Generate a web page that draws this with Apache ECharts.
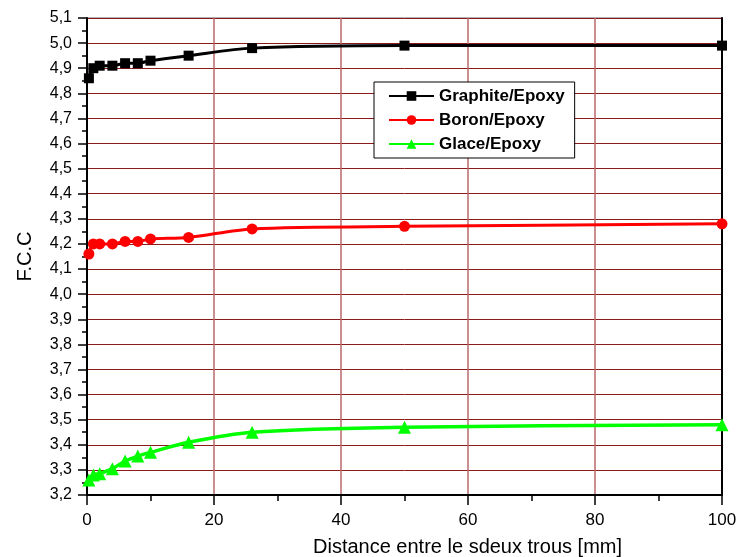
<!DOCTYPE html>
<html>
<head>
<meta charset="utf-8">
<script src="https://cdn.jsdelivr.net/npm/echarts@6/dist/echarts.min.js"></script>
<style>html,body{margin:0;padding:0;background:#fff}#c{width:739px;height:557px}</style>
</head>
<body>
<div id="c"></div>
<script>
const xValues = [0.3, 1, 2, 4, 6, 8, 10, 16, 26, 50, 100];
const graphite = [4.86, 4.90, 4.91, 4.91, 4.92, 4.92, 4.93, 4.95, 4.98, 4.99, 4.99];
const boron = [4.16, 4.20, 4.20, 4.20, 4.21, 4.21, 4.22, 4.226, 4.26, 4.27, 4.28];
const glace = [3.26, 3.28, 3.285, 3.305, 3.335, 3.355, 3.37, 3.41, 3.45, 3.47, 3.48];
const seriesNames = ['Graphite/Epoxy', 'Boron/Epoxy', 'Glace/Epoxy'];

const pairs = arr => xValues.map((x, i) => [x, arr[i]]);
const font = '"Liberation Sans", Arial, sans-serif';

const chart = echarts.init(document.getElementById('c'), null, {renderer: 'canvas'});
chart.setOption({
  animation: false,
  grid: {left: 87, top: 18, right: 17, bottom: 62, show: true, borderColor: '#666', borderWidth: 1,
    containLabel: false, outerBoundsMode: 'none'},
  legend: {
    orient: 'vertical',
    left: 374, top: 82,
    padding: [5, 10, 5, 14],
    itemGap: 6,
    itemWidth: 45, itemHeight: 12,
    borderColor: '#000', borderWidth: 1,
    backgroundColor: '#fff',
    textStyle: {fontFamily: font, fontSize: 17, fontWeight: 'bold', color: '#000', lineHeight: 18},
    data: seriesNames
  },
  xAxis: {
    type: 'value', min: 0, max: 100, interval: 20,
    name: 'Distance entre le sdeux trous [mm]',
    nameLocation: 'middle', nameGap: 42,
    nameTextStyle: {fontFamily: font, fontSize: 20, color: '#000', padding: [0, 0, 0, 126]},
    axisLine: {show: true, lineStyle: {color: '#000', width: 2}},
    axisTick: {show: true, length: 10, lineStyle: {color: '#000', width: 1.5}},
    minorTick: {show: true, splitNumber: 2, length: 6, lineStyle: {color: '#000', width: 1.5}},
    axisLabel: {fontFamily: font, fontSize: 17, color: '#000', margin: 17},
    splitLine: {show: true, lineStyle: {color: '#b86868', width: 1.5}}
  },
  yAxis: [{
    type: 'value', min: 3.2, max: 5.1, interval: 0.1,
    name: 'F.C.C',
    nameLocation: 'middle', nameGap: 52, nameRotate: 90,
    nameTextStyle: {fontFamily: font, fontSize: 20, color: '#000'},
    axisLine: {show: true, lineStyle: {color: '#000', width: 2}},
    axisTick: {show: true, length: 9, lineStyle: {color: '#000', width: 1.5}},
    minorTick: {show: true, splitNumber: 2, length: 5, lineStyle: {color: '#000', width: 1.5}},
    axisLabel: {fontFamily: font, fontSize: 16, color: '#000', margin: 15,
      formatter: v => v.toFixed(1).replace('.', ',')},
    splitLine: {show: true, lineStyle: {color: '#8b1a1a', width: 1}}
  }, {
    type: 'value', min: 3.2, max: 5.1, interval: 0.1, position: 'right',
    axisLine: {show: true, lineStyle: {color: '#000', width: 2}},
    axisTick: {show: false}, axisLabel: {show: false}, splitLine: {show: false}
  }],
  series: [
    {name: seriesNames[0], type: 'line', data: pairs(graphite), smooth: 0.3,
      symbol: 'rect', symbolSize: 10, itemStyle: {color: '#000'},
      lineStyle: {color: '#000', width: 3}},
    {name: seriesNames[1], type: 'line', data: pairs(boron), smooth: 0.3,
      symbol: 'circle', symbolSize: 11, itemStyle: {color: '#ff0000'},
      lineStyle: {color: '#ff0000', width: 3}},
    {name: seriesNames[2], type: 'line', data: pairs(glace), smooth: 0.3,
      symbol: 'triangle', symbolSize: 13, itemStyle: {color: '#00ff00'},
      lineStyle: {color: '#00ff00', width: 3.5}}
  ]
});
</script>
</body>
</html>
